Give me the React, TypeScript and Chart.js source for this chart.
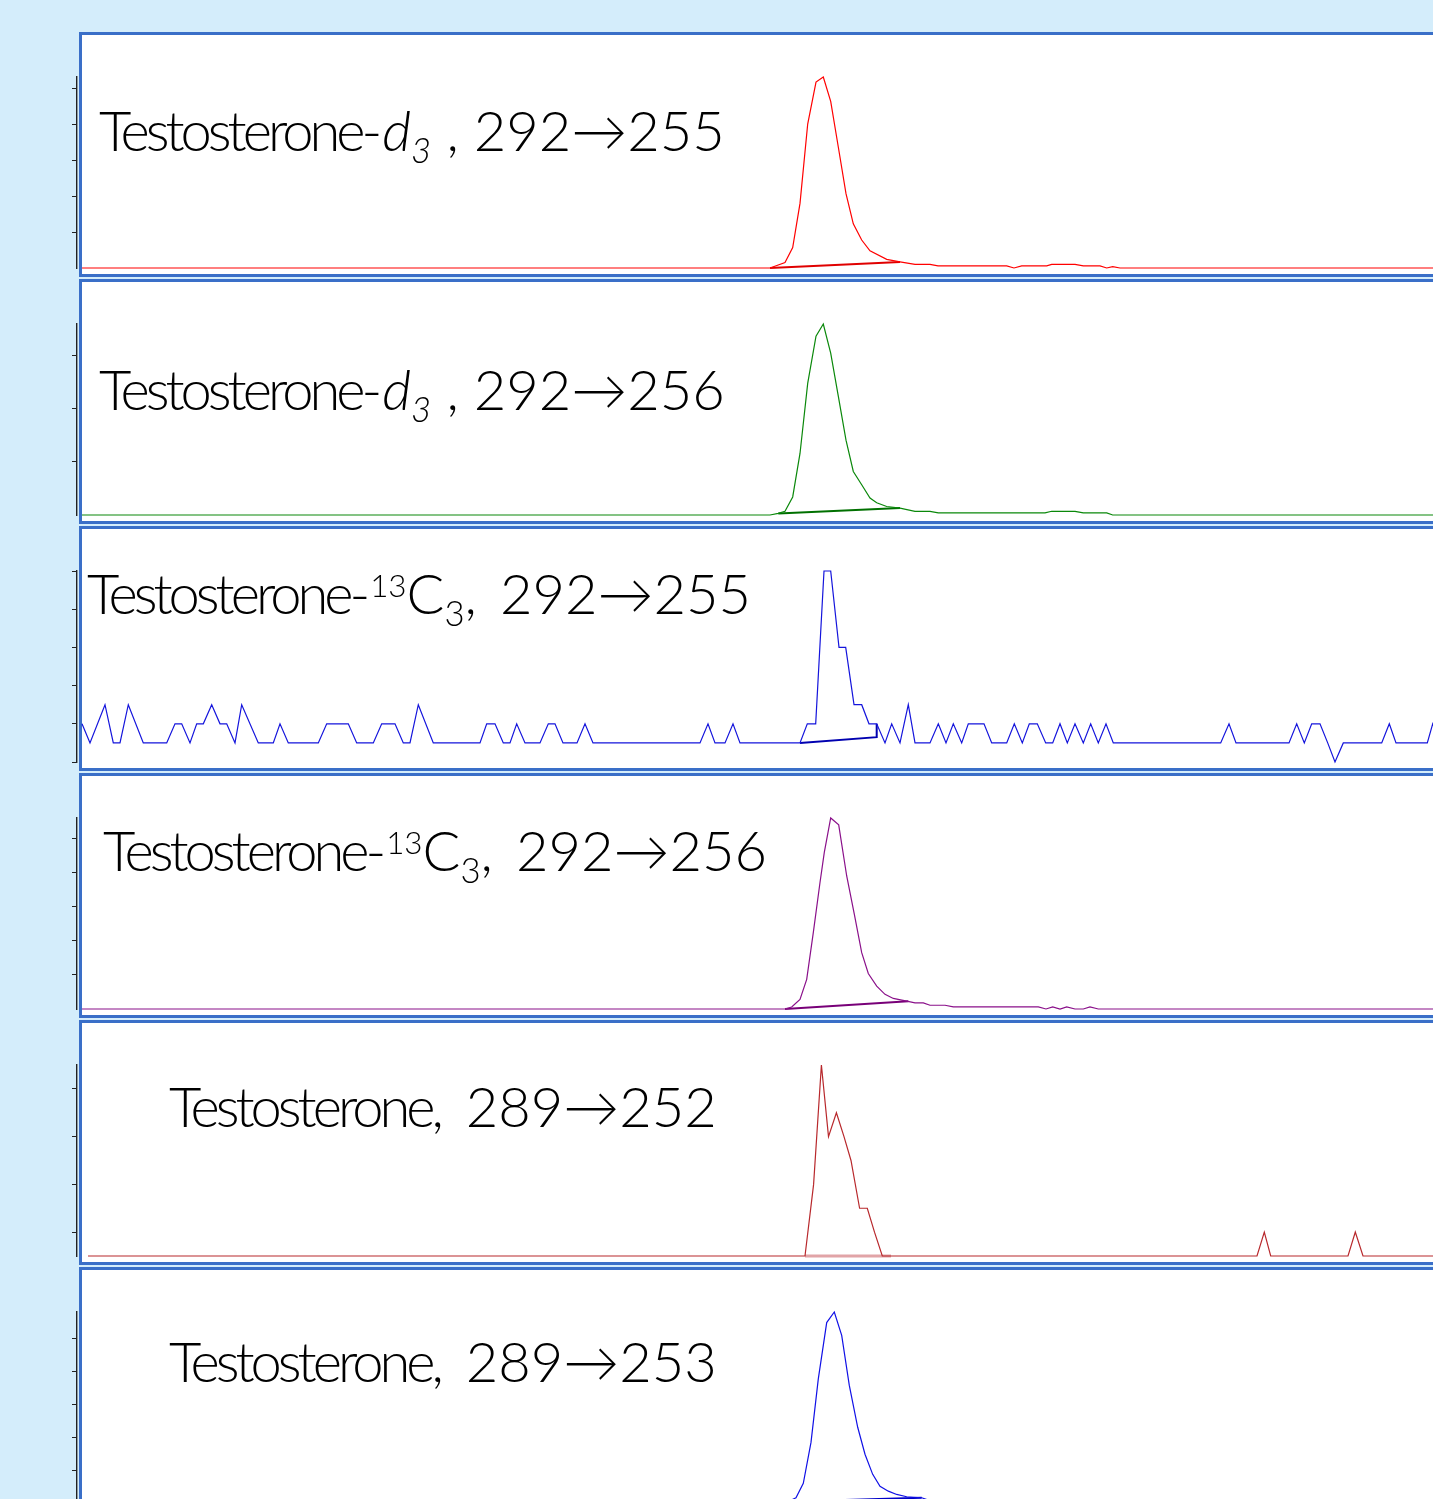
import React, { useEffect, useRef } from "react";
import { Chart, registerables } from "chart.js";

Chart.register(...registerables);

// ---------------- data (retention time in min, intensity) ----------------
// Testosterone-d3, 292→255
const rtD3a = [0, 6.88, 7.03, 7.107, 7.18, 7.257, 7.34, 7.413, 7.487, 7.563, 7.64, 7.713, 7.797, 7.88, 8.047, 8.18, 8.33, 8.48, 8.56, 9.247, 9.32, 9.397, 9.647, 9.697, 9.93, 10.013, 10.18, 10.247, 10.307, 10.38, 14.5];
const intD3a = [0, 0, 0.15, 0.57, 1.8, 4.01, 5.18, 5.32, 4.64, 3.37, 2.07, 1.23, 0.78, 0.48, 0.24, 0.17, 0.1, 0.1, 0.06, 0.06, 0, 0.06, 0.06, 0.1, 0.1, 0.06, 0.06, 0, 0.04, 0, 0];
const baseRtD3a = [6.88, 8.18];
const baseIntD3a = [0, 0.17];
const ticksD3a = [1, 2, 3, 4, 5];

// Testosterone-d3, 292→256
const rtD3b = [0, 6.88, 6.963, 7.03, 7.107, 7.18, 7.257, 7.34, 7.413, 7.487, 7.563, 7.64, 7.713, 7.797, 7.88, 7.947, 8.047, 8.18, 8.33, 8.48, 8.563, 9.63, 9.697, 9.93, 10.013, 10.247, 10.307, 14.5];
const intD3b = [0, 0, 0.03, 0.07, 0.34, 1.16, 2.48, 3.37, 3.6, 3.05, 2.24, 1.41, 0.82, 0.57, 0.32, 0.23, 0.16, 0.13, 0.07, 0.07, 0.04, 0.04, 0.07, 0.07, 0.04, 0.04, 0, 0];
const baseRtD3b = [6.963, 8.18];
const baseIntD3b = [0.03, 0.13];
const ticksD3b = [1, 2, 3];

// Testosterone-13C3, 292→255 (counts)
const rtC13a = [0, 0.08, 0.23, 0.313, 0.38, 0.463, 0.613, 0.847, 0.93, 0.997, 1.08, 1.147, 1.213, 1.297, 1.38, 1.447, 1.53, 1.597, 1.763, 1.913, 1.98, 2.063, 2.363, 2.447, 2.663, 2.747, 2.913, 2.997, 3.13, 3.213, 3.28, 3.363, 3.513, 3.98, 4.047, 4.13, 4.213, 4.28, 4.347, 4.43, 4.58, 4.663, 4.73, 4.81, 4.95, 5.03, 5.11, 6.18, 6.26, 6.33, 6.43, 6.51, 6.58, 7.18, 7.253, 7.337, 7.42, 7.487, 7.57, 7.637, 7.72, 7.797, 7.87, 7.947, 8.03, 8.097, 8.18, 8.263, 8.33, 8.48, 8.563, 8.64, 8.713, 8.797, 8.863, 9.02, 9.097, 9.247, 9.323, 9.403, 9.473, 9.553, 9.637, 9.707, 9.78, 9.853, 9.93, 10.013, 10.087, 10.163, 10.24, 10.313, 11.387, 11.47, 11.54, 12.07, 12.147, 12.223, 12.297, 12.38, 12.457, 12.53, 12.613, 12.997, 13.073, 13.14, 13.453, 13.507, 13.58, 14.5];
const intC13a = [2, 1, 3, 1, 1, 3, 1, 1, 2, 2, 1, 2, 2, 3, 2, 2, 1, 3, 1, 1, 2, 1, 1, 2, 2, 1, 1, 2, 2, 1, 1, 3, 1, 1, 2, 2, 1, 1, 2, 1, 1, 2, 2, 1, 1, 2, 1, 1, 2, 1, 1, 2, 1, 1, 2, 2, 10, 10, 6, 6, 3, 3, 2, 2, 1, 2, 1, 3, 1, 1, 2, 1, 2, 1, 2, 2, 1, 1, 2, 1, 2, 2, 1, 1, 2, 1, 2, 1, 2, 1, 2, 1, 1, 2, 1, 1, 2, 1, 2, 2, 1, 0, 1, 1, 2, 1, 1, 2, 1, 1];
const baseRtC13a = [7.947, 7.947, 7.18];
const baseIntC13a = [2, 1.3, 1];
const ticksC13a = [0, 2, 4, 6, 8, 10];

// Testosterone-13C3, 292→256
const rtC13b = [0, 7.03, 7.097, 7.18, 7.247, 7.313, 7.38, 7.423, 7.487, 7.567, 7.647, 7.723, 7.797, 7.863, 7.947, 8.03, 8.113, 8.247, 8.33, 8.413, 8.48, 8.63, 8.713, 9.563, 9.64, 9.707, 9.78, 9.847, 9.93, 10.013, 10.08, 10.163, 14.5];
const intC13b = [0, 0, 0.06, 0.28, 0.87, 2.24, 3.71, 4.59, 5.6, 5.4, 3.9, 2.78, 1.65, 1.04, 0.67, 0.43, 0.31, 0.23, 0.18, 0.18, 0.11, 0.11, 0.06, 0.06, 0, 0.06, 0, 0.06, 0, 0, 0.06, 0, 0];
const baseRtC13b = [7.03, 8.263];
const baseIntC13b = [0, 0.23];
const ticksC13b = [1, 2, 3, 4, 5];

// Testosterone, 289→252 (counts)
const rtT252 = [0.06, 7.23, 7.316, 7.394, 7.465, 7.544, 7.62, 7.69, 7.776, 7.853, 7.925, 8.003, 11.75, 11.823, 11.887, 12.66, 12.733, 12.81, 14.5];
const intT252 = [1, 1, 4, 9, 6, 7, 6, 5, 3, 3, 2, 1, 1, 2, 1, 1, 2, 1, 1];
const baseRtT252 = [7.23, 8.09];
const baseIntT252 = [1, 1];
const ticksT252 = [2, 4, 6, 8];

// Testosterone, 289→253
const rtT253 = [0, 7.03, 7.14, 7.213, 7.29, 7.363, 7.447, 7.523, 7.597, 7.673, 7.757, 7.83, 7.907, 7.98, 8.063, 8.147, 8.247, 8.397, 8.5, 10, 14.5];
const intT253 = [0, 0, 0.16, 0.6, 1.84, 3.77, 5.48, 5.8, 5.09, 3.57, 2.3, 1.48, 0.87, 0.51, 0.36, 0.26, 0.19, 0.16, 0.05, 0.02, 0];
const baseRtT253 = [7.03, 8.397];
const baseIntT253 = [0.04, 0.16];
const ticksT253 = [1, 2, 3, 4, 5];

// ---------------- layout ----------------
const W = 1433;
const H = 1499;
const PANEL_TOPS = [32, 279, 526, 773, 1020, 1267];
const PANEL_H = 245;
const CANVAS_W = 1533;
const FS = 56;
const FONT = "Lato, 'Noto Sans', sans-serif";
const BORDER_BLUE = "#3a6fc8";

type Spec = {
  rt: number[];
  val: number[];
  bRt: number[];
  bVal: number[];
  ticks: number[];
  min: number;
  color: string;
  bColor: string;
  bWidth: number;
};

const specs: Spec[] = [
  { rt: rtD3a, val: intD3a, bRt: baseRtD3a, bVal: baseIntD3a, ticks: ticksD3a, min: 0, color: "#ff0000", bColor: "#e00000", bWidth: 2 },
  { rt: rtD3b, val: intD3b, bRt: baseRtD3b, bVal: baseIntD3b, ticks: ticksD3b, min: 0, color: "#0a880a", bColor: "#007000", bWidth: 2 },
  { rt: rtC13a, val: intC13a, bRt: baseRtC13a, bVal: baseIntC13a, ticks: ticksC13a, min: 0, color: "#1414dc", bColor: "#0000b0", bWidth: 2 },
  { rt: rtC13b, val: intC13b, bRt: baseRtC13b, bVal: baseIntC13b, ticks: ticksC13b, min: 0, color: "#8a108a", bColor: "#780078", bWidth: 2 },
  { rt: rtT252, val: intT252, bRt: baseRtT252, bVal: baseIntT252, ticks: ticksT252, min: 1, color: "#b8282c", bColor: "rgba(200,90,95,0.55)", bWidth: 3 },
  { rt: rtT253, val: intT253, bRt: baseRtT253, bVal: baseIntT253, ticks: ticksT253, min: 0, color: "#1010e6", bColor: "#0000c8", bWidth: 2 },
];

const Word = () => <span style={{ letterSpacing: -4 }}>Testosterone</span>;
const Gap = ({ w }: { w: number }) => <span style={{ display: "inline-block", width: w }} />;
const Sub = ({ children, italic }: { children: React.ReactNode; italic?: boolean }) => (
  <span style={{ fontSize: FS * 0.62, position: "relative", top: FS * 0.2, fontStyle: italic ? "italic" : "normal" }}>{children}</span>
);
const Sup = ({ children }: { children: React.ReactNode }) => (
  <span style={{ fontSize: FS * 0.56, position: "relative", top: -FS * 0.31 }}>{children}</span>
);

const labels: { left: number; baseline: number; content: React.ReactNode }[] = [
  { left: 99, baseline: 152, content: (<><Word />-<i>d</i><Sub italic>3</Sub>{" , "}292→255</>) },
  { left: 99, baseline: 411, content: (<><Word />-<i>d</i><Sub italic>3</Sub>{" , "}292→256</>) },
  { left: 87, baseline: 615, content: (<><Word />-<Sup>13</Sup>C<Sub>3</Sub>{", "}<Gap w={8} />292→255</>) },
  { left: 103, baseline: 872, content: (<><Word />-<Sup>13</Sup>C<Sub>3</Sub>{", "}<Gap w={8} />292→256</>) },
  { left: 169, baseline: 1128, content: (<><Word />{", "}<Gap w={7} />289→252</>) },
  { left: 169, baseline: 1383, content: (<><Word />{", "}<Gap w={7} />289→253</>) },
];

function Trace({ spec, top }: { spec: Spec; top: number }) {
  const ref = useRef<HTMLCanvasElement | null>(null);
  useEffect(() => {
    if (!ref.current) return;
    const s = spec;
    const ticks = s.ticks;
    const chart = new Chart(ref.current, {
      type: "line",
      data: {
        datasets: [
          {
            data: s.rt.map((x, i) => ({ x, y: s.val[i] })),
            borderColor: s.color,
            borderWidth: 1.2,
            pointRadius: 0,
            tension: 0,
            clip: false as any,
          },
          {
            data: s.bRt.map((x, i) => ({ x, y: s.bVal[i] })),
            borderColor: s.bColor,
            borderWidth: s.bWidth,
            pointRadius: 0,
            tension: 0,
            clip: false as any,
          },
        ],
      },
      options: {
        animation: false,
        responsive: false,
        events: [],
        layout: { padding: { left: 72, top: 45, bottom: 9, right: 0 } },
        plugins: { legend: { display: false }, tooltip: { enabled: false } },
        scales: {
          x: { type: "linear", min: -0.05, max: 14.51, display: false },
          y: {
            type: "linear",
            min: s.min,
            max: Math.max(...s.val),
            afterBuildTicks: (axis: any) => {
              axis.ticks = ticks.map((v) => ({ value: v }));
            },
            ticks: { display: false },
            grid: { drawOnChartArea: false, drawTicks: true, tickLength: 5, color: "#222", lineWidth: 1 },
            border: { display: true, color: "#222", width: 1.4 },
          },
        },
      } as any,
    });
    return () => chart.destroy();
  }, [spec]);
  return (
    <canvas
      ref={ref}
      width={CANVAS_W}
      height={PANEL_H}
      style={{ position: "absolute", left: 0, top, width: CANVAS_W, height: PANEL_H }}
    />
  );
}

export default function App() {
  return (
    <div
      style={{
        position: "absolute",
        left: 0,
        top: 0,
        width: W,
        height: H,
        overflow: "hidden",
        background: "#d4edfb",
      }}
    >
      {PANEL_TOPS.map((t, i) => (
        <div
          key={"p" + i}
          style={{
            position: "absolute",
            left: 79,
            top: t,
            width: W,
            height: PANEL_H,
            boxSizing: "border-box",
            background: "#ffffff",
            border: `3px solid ${BORDER_BLUE}`,
            borderRight: "none",
          }}
        />
      ))}
      {specs.map((s, i) => (
        <Trace key={"c" + i} spec={s} top={PANEL_TOPS[i]} />
      ))}
      {labels.map((l, i) => (
        <div
          key={"l" + i}
          style={{
            position: "absolute",
            left: l.left,
            top: l.baseline - FS * 0.887,
            fontFamily: FONT,
            fontWeight: 300,
            fontSize: FS,
            lineHeight: 1,
            whiteSpace: "nowrap",
            color: "#000",
          }}
        >
          {l.content}
        </div>
      ))}
    </div>
  );
}
